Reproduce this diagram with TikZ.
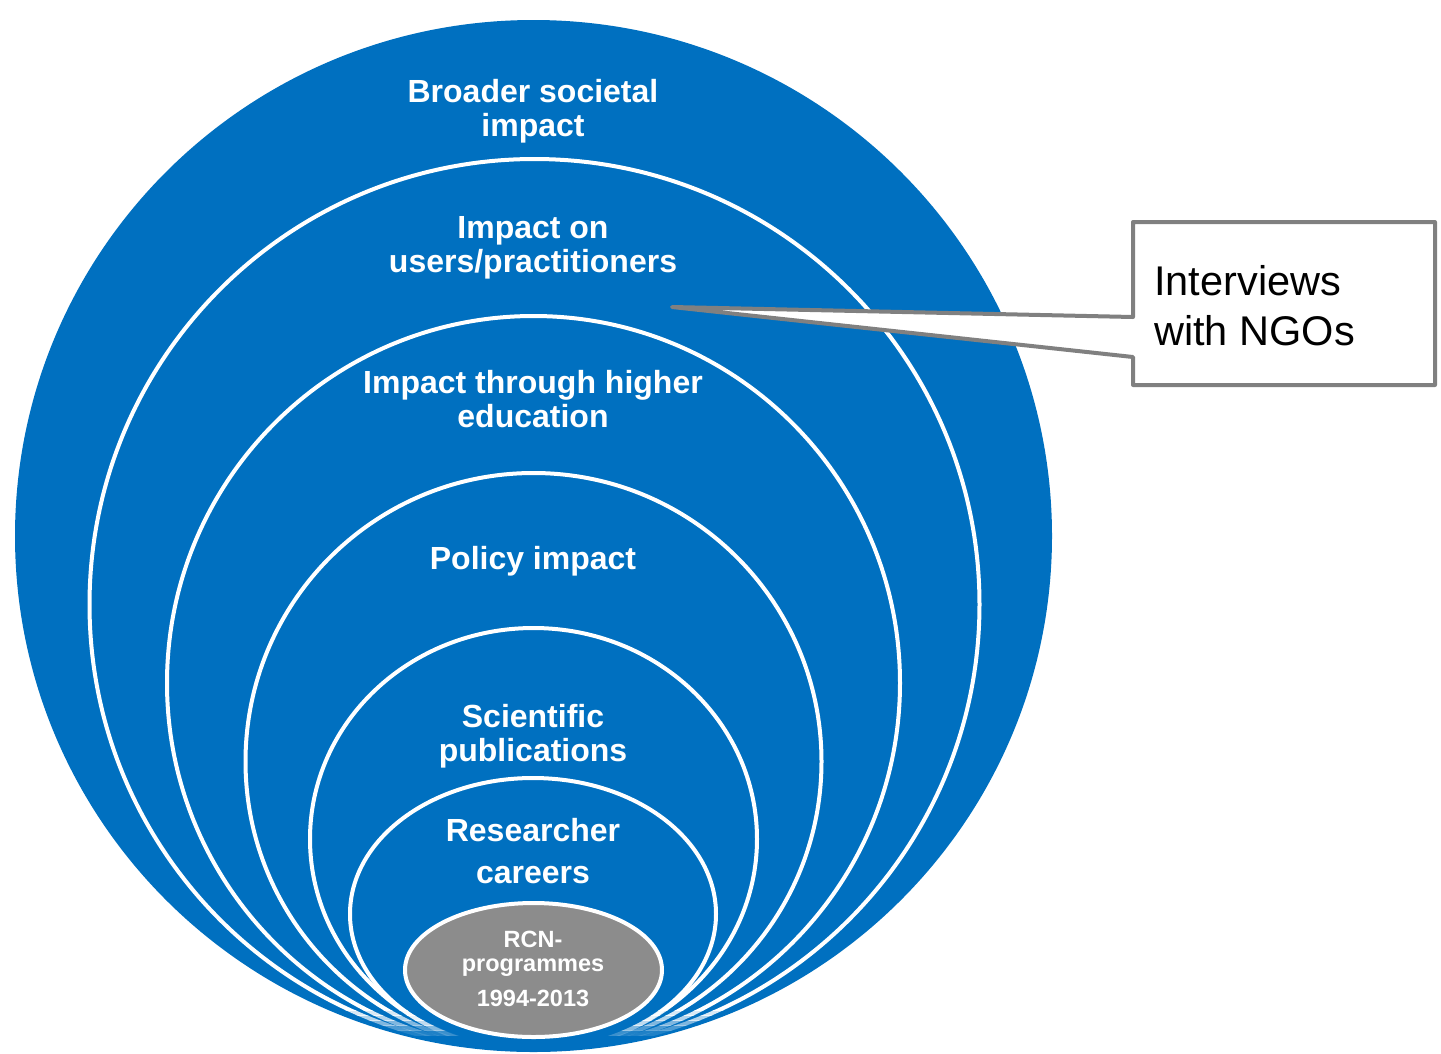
\documentclass[tikz,border=0pt]{standalone}
\usepackage{fontspec}
\setmainfont{Liberation Sans}
\definecolor{rcnblue}{RGB}{0,112,192}
\definecolor{rcngray}{RGB}{140,140,140}
\definecolor{callgray}{RGB}{128,128,128}
\newcommand\myrings[1]{%
  \draw[ring,draw opacity=#1] (534.5,604.5) ellipse [x radius=445, y radius=445.5];
  \draw[ring,draw opacity=#1] (533.5,683) ellipse [x radius=366.5, y radius=367];
  \draw[ring,draw opacity=#1] (533.5,761.5) ellipse [x radius=288, y radius=288.5];
  \draw[ring,draw opacity=#1] (533.5,839) ellipse [x radius=223.5, y radius=211];
  \draw[ring,draw opacity=#1] (533,914) ellipse [x radius=183, y radius=136];}
\begin{document}
\begin{tikzpicture}[x=1pt,y=-1pt,
  lbl/.style={text=white,font=\bfseries\fontsize{32}{34}\selectfont,align=center,inner sep=0pt},
  ring/.style={draw=white,line width=4pt},
  callbox/.style={draw=callgray,line width=4pt,fill=white,line join=round}]
\useasboundingbox (0,0) rectangle (1441,1053);
% outer disc
\fill[rcnblue] (533.5,536) ellipse [x radius=518.5, y radius=516];
% nested rings, fading out towards the bottom
\begin{scope}
  \clip (0,0) rectangle (1441,1010);
  \myrings{1}
\end{scope}
\foreach \ya/\yb/\op in {1010/1015/0.85,1015/1020/0.7,1020/1025/0.5,1025/1030/0.3,1030/1035/0.12}{
  \begin{scope}
    \clip (0,\ya) rectangle (1441,\yb);
    \myrings{\op}
  \end{scope}
}
% core
\draw[draw=white,line width=4pt,fill=rcngray] (533.5,970) ellipse [x radius=128.5, y radius=67];
% labels
\node[lbl] (broader) at (533,111) {Broader societal\\impact};
\node[lbl] (users) at (533,248) {Impact on\\users/practitioners};
\node[lbl] (higher) at (533,399) {Impact through higher\\education};
\node[lbl] (policy) at (533,561) {Policy impact};
\node[lbl] (sci) at (533,736) {Scientific\\publications};
\node[lbl] (careers) at (533,851) {Researcher\\[8pt]careers};
\node[text=white,font=\bfseries\fontsize{23.5}{24}\selectfont,align=center,inner sep=0pt] (rcn) at (533,969) {RCN-\\programmes\\[11pt]1994-2013};
% callout
\coordinate (tip) at (672,307);
\coordinate (wa) at (1133,317);
\coordinate (wb) at (1133,357);
\draw[callbox] (wa) -- (1133,222) -- (1435,222) -- (1435,385) -- (1133,385) -- (wb) -- (tip) -- cycle;
\node[anchor=west,font=\fontsize{41.5}{50}\selectfont,align=left,inner sep=0pt] (ngo) at (1154,306) {Interviews\\with NGOs};
\end{tikzpicture}
\end{document}
